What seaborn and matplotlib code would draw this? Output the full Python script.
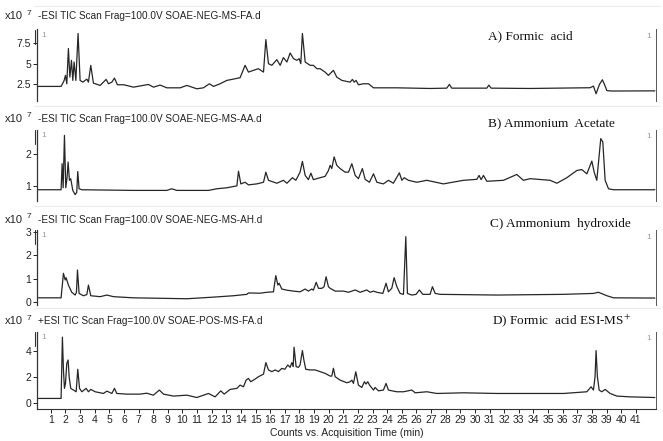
import matplotlib
matplotlib.use("Agg")
import matplotlib.pyplot as plt
import pandas as pd
import seaborn as sns
from matplotlib.lines import Line2D

# ------------------------------
# Chromatogram traces (time in min, signal in 1e7 counts)
# ------------------------------
fa_time = [0.15, 1.70, 1.82, 1.91, 2.00, 2.09, 2.20, 2.30, 2.41, 2.50,
           2.59, 2.71, 2.86, 3.00, 3.19, 3.46, 3.57, 3.73, 3.91, 4.37,
           4.78, 4.94, 5.17, 5.35, 5.55, 6.00, 6.65, 7.67, 8.02, 8.47,
           8.93, 9.84, 10.30, 10.98, 11.43, 11.84, 12.12, 12.57, 13.03, 13.49,
           13.94, 14.28, 14.51, 14.85, 15.19, 15.54, 15.70, 15.88, 16.11, 16.45,
           16.68, 16.90, 17.14, 17.36, 17.59, 17.82, 17.98, 18.09, 18.20, 18.39,
           18.73, 18.95, 19.19, 19.41, 19.75, 19.98, 20.32, 20.55, 20.90, 21.46,
           21.62, 21.74, 21.87, 22.03, 22.37, 22.72, 23.06, 24.65, 26.93, 28.07,
           28.25, 28.41, 30.81, 30.95, 31.10, 33.77, 37.87, 38.10, 38.28, 38.51,
           38.71, 38.83, 39.02, 39.38, 42.30]
fa_signal = [2.26, 2.26, 2.66, 2.99, 3.60, 2.58, 6.86, 3.39, 5.43, 2.99,
             5.22, 2.99, 8.69, 2.99, 2.78, 3.15, 2.78, 4.82, 2.66, 2.38,
             3.11, 2.58, 2.78, 3.27, 2.46, 2.46, 2.17, 2.50, 2.17, 2.42,
             2.09, 2.09, 2.38, 1.97, 2.09, 2.58, 2.26, 2.58, 2.99, 3.15,
             3.32, 4.82, 4.00, 4.21, 4.41, 4.00, 7.95, 5.02, 4.82, 5.51,
             4.82, 5.76, 5.22, 6.32, 5.63, 5.43, 5.63, 5.02, 8.69, 5.22,
             4.82, 4.82, 4.41, 4.41, 4.00, 3.60, 4.21, 3.39, 2.99, 2.78,
             3.11, 2.78, 2.99, 2.46, 2.58, 2.58, 2.09, 2.09, 2.01, 2.05,
             2.50, 2.05, 2.05, 2.42, 2.05, 2.01, 2.10, 2.30, 1.37, 2.50,
             3.07, 2.60, 1.75, 1.70, 1.72]

aa_time = [0.15, 1.70, 1.77, 1.84, 1.93, 2.02, 2.11, 2.18, 2.27, 2.36,
           2.50, 2.66, 2.77, 2.84, 2.93, 3.12, 6.65, 8.93, 9.27, 9.61,
           11.78, 12.35, 13.03, 13.72, 13.83, 13.99, 14.28, 14.51, 15.08, 15.54,
           15.70, 15.88, 16.45, 16.90, 17.14, 17.52, 17.75, 18.04, 18.20, 18.39,
           18.61, 18.78, 18.95, 19.41, 19.75, 19.98, 20.10, 20.21, 20.37, 20.55,
           20.78, 21.12, 21.35, 21.58, 21.81, 22.03, 22.30, 22.49, 22.78, 23.06,
           23.29, 23.74, 24.08, 24.42, 24.83, 25.00, 25.16, 25.45, 26.02, 26.71,
           27.84, 29.21, 30.13, 30.28, 30.42, 30.58, 30.81, 31.95, 32.86, 33.31,
           33.77, 35.14, 35.60, 36.28, 36.96, 37.30, 37.65, 37.99, 38.15, 38.33,
           38.60, 38.74, 38.90, 39.13, 39.47, 42.30]
aa_signal = [0.89, 0.89, 1.69, 0.95, 2.56, 0.95, 1.28, 1.74, 1.18, 1.23,
             0.87, 0.74, 0.81, 1.45, 0.92, 0.89, 0.87, 0.87, 0.92, 0.87,
             0.87, 0.92, 0.95, 1.01, 1.46, 1.07, 1.12, 1.04, 1.07, 1.12,
             1.43, 1.18, 1.09, 1.18, 1.09, 1.26, 1.18, 1.43, 1.76, 1.33,
             1.20, 1.40, 1.20, 1.26, 1.30, 1.48, 1.64, 1.54, 1.90, 1.64,
             1.54, 1.43, 1.43, 1.69, 1.33, 1.23, 1.54, 1.21, 1.12, 1.38,
             1.12, 1.07, 1.18, 1.09, 1.41, 1.18, 1.26, 1.18, 1.12, 1.18,
             1.07, 1.18, 1.21, 1.33, 1.20, 1.33, 1.15, 1.18, 1.36, 1.18,
             1.23, 1.18, 1.09, 1.26, 1.48, 1.51, 1.38, 1.77, 1.43, 1.18,
             2.46, 2.36, 1.18, 0.92, 0.89, 0.89]

ah_time = [0.15, 1.70, 1.86, 1.98, 2.04, 2.20, 2.43, 2.66, 2.75, 2.82,
           2.93, 3.23, 3.46, 3.57, 3.73, 4.37, 4.83, 5.28, 6.65, 8.47,
           10.30, 12.12, 13.49, 14.40, 14.51, 15.31, 15.77, 16.22, 16.38, 16.52,
           16.61, 16.79, 17.14, 17.59, 18.04, 18.39, 18.61, 18.84, 18.95, 19.14,
           19.30, 19.53, 19.68, 19.82, 19.98, 20.10, 20.44, 21.01, 21.35, 21.81,
           22.15, 22.60, 22.83, 23.06, 23.29, 23.70, 23.92, 24.08, 24.31, 24.47,
           24.66, 24.88, 25.11, 25.27, 25.38, 25.68, 25.97, 26.20, 26.43, 26.93,
           27.09, 27.28, 27.62, 31.49, 36.05, 38.10, 38.44, 39.02, 39.47, 42.30]
ah_signal = [0.17, 0.17, 1.23, 0.94, 1.04, 0.72, 0.41, 0.29, 0.41, 1.37,
             0.36, 0.26, 0.31, 0.72, 0.26, 0.22, 0.29, 0.22, 0.17, 0.15,
             0.13, 0.20, 0.26, 0.32, 0.38, 0.37, 0.41, 0.43, 1.13, 0.72,
             0.80, 0.55, 0.50, 0.46, 0.43, 0.55, 0.46, 0.55, 0.50, 0.84,
             0.58, 0.58, 0.65, 1.08, 0.65, 0.58, 0.46, 0.46, 0.41, 0.51,
             0.41, 0.51, 0.41, 0.46, 0.41, 0.36, 0.80, 0.43, 0.58, 1.04,
             0.65, 0.36, 0.32, 2.81, 0.36, 0.29, 0.32, 0.51, 0.32, 0.32,
             0.65, 0.36, 0.32, 0.29, 0.32, 0.36, 0.41, 0.26, 0.17, 0.16]

pos_time = [0.15, 1.70, 1.79, 1.86, 1.93, 2.00, 2.09, 2.18, 2.25, 2.36,
            2.55, 2.73, 2.84, 2.96, 3.12, 3.41, 3.57, 3.73, 4.03, 4.60,
            4.83, 5.17, 5.35, 5.51, 6.19, 7.10, 7.56, 8.01, 8.42, 8.70,
            9.38, 10.30, 10.98, 11.78, 12.23, 12.62, 12.85, 13.26, 13.72, 13.94,
            14.17, 14.35, 14.51, 14.67, 14.85, 15.03, 15.19, 15.42, 15.54, 15.70,
            15.88, 16.11, 16.34, 16.56, 16.79, 17.00, 17.20, 17.36, 17.48, 17.57,
            17.63, 17.77, 17.93, 18.04, 18.20, 18.30, 18.43, 18.73, 19.07, 19.41,
            19.75, 20.10, 20.21, 20.32, 20.44, 20.78, 21.24, 21.47, 21.58, 21.69,
            21.85, 22.03, 22.26, 22.44, 22.55, 22.67, 22.79, 23.06, 23.17, 23.40,
            23.74, 23.92, 24.08, 24.42, 24.66, 25.11, 25.68, 25.91, 26.71, 27.39,
            29.21, 31.49, 33.77, 36.05, 37.65, 37.94, 38.10, 38.21, 38.28, 38.37,
            38.49, 38.67, 38.90, 39.24, 39.70, 40.61, 42.30]
pos_signal = [0.34, 0.34, 5.03, 2.52, 1.11, 1.49, 3.03, 3.28, 2.00, 1.11,
              0.98, 0.85, 2.57, 1.11, 0.85, 1.11, 0.85, 1.03, 0.85, 0.72,
              0.90, 0.72, 1.11, 0.72, 0.67, 0.67, 0.74, 0.59, 0.98, 0.67,
              0.52, 0.59, 0.41, 0.72, 0.46, 0.92, 0.67, 1.03, 1.11, 1.36,
              1.23, 1.74, 1.87, 1.62, 1.74, 1.87, 2.00, 2.13, 2.20, 3.08,
              2.52, 2.39, 2.52, 2.39, 2.64, 2.57, 2.90, 2.72, 3.08, 2.77,
              4.26, 2.77, 2.72, 2.90, 4.00, 3.28, 2.57, 2.52, 2.52, 2.39,
              2.26, 2.05, 2.05, 2.65, 2.00, 1.74, 1.54, 1.62, 1.74, 1.49,
              2.38, 1.36, 1.18, 1.62, 1.44, 1.62, 1.36, 0.98, 1.18, 0.92,
              0.98, 1.49, 0.98, 0.90, 0.85, 0.85, 0.98, 0.77, 0.85, 0.72,
              0.77, 0.72, 0.72, 0.72, 0.85, 1.23, 0.98, 2.00, 4.00, 2.00,
              0.98, 0.85, 1.03, 0.72, 0.52, 0.46, 0.41]

scan_titles = ["-ESI TIC Scan Frag=100.0V SOAE-NEG-MS-FA.d",
               "-ESI TIC Scan Frag=100.0V SOAE-NEG-MS-AA.d",
               "-ESI TIC Scan Frag=100.0V SOAE-NEG-MS-AH.d",
               "+ESI TIC Scan Frag=100.0V SOAE-POS-MS-FA.d"]
panel_labels = ["A) Formic  acid", "B) Ammonium  Acetate",
                "C) Ammonium  hydroxide", "D) Formic  acid ESI-MS$^{+}$"]
y_ticks = [[2.5, 5, 7.5], [1, 2], [0, 1, 2, 3], [0, 2, 4]]
y_ticklabels = [["2.5", "5", "7.5"], ["1", "2"], ["0", "1", "2", "3"], ["0", "2", "4"]]
x_ticks = list(range(1, 42))

# ------------------------------
# Style
# ------------------------------
sns.set_style("ticks")
plt.rcParams['font.family'] = ['Liberation Sans', 'DejaVu Sans']
plt.rcParams['mathtext.fontset'] = 'stix'

W, H = 663, 441
fig = plt.figure(figsize=(W / 100, H / 100), dpi=100)


def px(x, y):
    return x / W, 1 - y / H


# axes boxes in pixels: (top, bottom)
boxes = [(29.5, 100.5), (129.5, 200.5), (230, 305), (331.5, 408.5)]
ylims = [(0.55, 9.17), (0.56, 2.74), (-0.14, 3.1), (-0.43, 5.46)]
title_y = [16, 118.5, 219.5, 320.5]
label_pos = [(488, 36), (488, 124.5), (490, 223.5), (492, 320.5)]
ax_left, ax_right = 37.4, 655.6

traces = [(fa_time, fa_signal), (aa_time, aa_signal),
          (ah_time, ah_signal), (pos_time, pos_signal)]

line_color = "#262626"

for i, (t, s) in enumerate(traces):
    top, bot = boxes[i]
    ax = fig.add_axes([ax_left / W, 1 - bot / H, (ax_right - ax_left) / W, (bot - top) / H])
    df = pd.DataFrame({"time": t, "signal": s})
    sns.lineplot(data=df, x="time", y="signal", ax=ax, color=line_color,
                 linewidth=0.9, errorbar=None, estimator=None)
    ax.set_xlim(0.08, 42.35)
    ax.set_ylim(*ylims[i])
    ax.set_ylabel("")
    ax.set_xlabel("")
    ax.set_yticks(y_ticks[i])
    ax.set_yticklabels(y_ticklabels[i])
    ax.tick_params(axis="y", length=3, width=0.7, pad=1.5, labelsize=7.5, colors="#222222")

    for side in ["top", "bottom"]:
        ax.spines[side].set_visible(False)
    ax.spines["left"].set_color("#333333")
    ax.spines["left"].set_linewidth(0.9)
    ax.spines["right"].set_visible(True)
    ax.spines["right"].set_color("#555555")
    ax.spines["right"].set_linewidth(0.7)

    if i == 3:
        ax.spines["bottom"].set_visible(True)
        ax.spines["bottom"].set_color("#333333")
        ax.spines["bottom"].set_linewidth(0.8)
        ax.set_xticks(x_ticks)
        ax.set_xticklabels([str(k) for k in x_ticks])
        ax.tick_params(axis="x", length=3, width=0.7, pad=1.5, labelsize=7.5, colors="#222222")
        ax.set_xlabel("Counts vs. Acquisition Time (min)", fontsize=7.5, labelpad=2, color="#222222")
    else:
        ax.set_xticks([])

    # small gray "1" markers
    ax.text(0.007, 0.97, "1", transform=ax.transAxes, fontsize=6, color="#999999", va="top")
    ax.text(0.992, 0.95, "1", transform=ax.transAxes, fontsize=6, color="#999999", va="top", ha="right")

    # double bar at top of left spine
    x0, y0 = px(ax_left - 2.2, top)
    x1, y1 = px(ax_left - 2.2, top + 14)
    fig.add_artist(Line2D([x0, x1], [y0, y1], color="#333333", linewidth=0.8))

    # faint frame line above each panel
    fx0, fy = px(34, top - 24)
    fx1, _ = px(660, top - 24)
    fig.add_artist(Line2D([fx0, fx1], [fy, fy], color="#ececec", linewidth=0.8))

    # headers
    hx, hy = px(5, title_y[i])
    fig.text(hx, hy, "x10", fontsize=8, va="center", color="#222222")
    sx, sy = px(26.5, title_y[i] - 2.5)
    fig.text(sx, sy, "7", fontsize=6, va="center", color="#222222")
    tx, ty = px(38.5, title_y[i])
    fig.text(tx, ty, scan_titles[i], fontsize=7.2, va="center", color="#222222")

    lx, ly = px(*label_pos[i])
    fig.text(lx, ly, panel_labels[i], fontsize=9.5, va="center",
             family="Liberation Serif", color="#111111")

fig.savefig("out.png", dpi=100, facecolor="white")
